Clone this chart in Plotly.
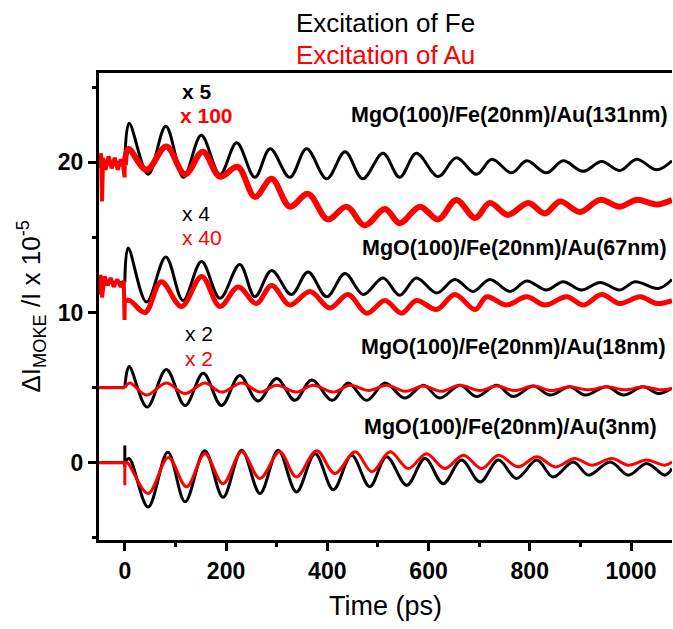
import plotly.graph_objects as go

# ---- time-resolved MOKE traces (time in ps, signal in units of 1e-5) ----
# Fe excitation (black) and Au excitation (red), one pair per Au thickness.
# Values are the turning points of each oscillating trace after t = 0.

fe_131_t = [0, 8.5, 46, 81, 116, 151, 188, 221, 257, 287, 326, 359, 399, 435, 470, 510,
            543, 576, 619, 655, 695, 725, 764, 794, 833, 866, 905, 942, 978, 1011, 1051, 1081]
fe_131_v = [20, 22.6, 19.2, 22.4, 19.0, 21.8, 19.2, 21.3, 19.0, 20.9, 19.0, 20.9, 18.9, 20.7, 18.9, 20.6,
            19.0, 20.6, 19.05, 20.3, 19.2, 20.2, 19.3, 20.1, 19.3, 20.1, 19.4, 20.05, 19.45, 20.2, 19.5, 20.1]

au_131_t = [0, 7, 43, 82, 119, 154, 188, 223, 257, 290, 326, 362, 401, 438, 474, 514,
            543, 583, 619, 655, 692, 721, 757, 797, 830, 860, 899, 939, 978, 1011, 1051, 1081]
au_131_v = [19.8, 20.9, 19.5, 21.05, 19.2, 20.7, 19.05, 19.7, 17.7, 18.9, 17.05, 17.9, 16.2, 17.05, 15.8, 16.9,
            15.95, 17.05, 16.2, 17.5, 16.3, 17.3, 16.5, 17.3, 16.6, 17.4, 16.7, 17.5, 17.05, 17.5, 17.2, 17.5]
au_131_pre_t = [-51, -47, -45, -43, -38, -32, -26, -20, -14, -8, -3, -0.5, 0]
au_131_pre_v = [19.6, 20.6, 17.4, 20.3, 19.5, 20.4, 19.6, 20.3, 19.5, 20.2, 19.7, 19.0, 19.8]

fe_67_t = [0, 6.6, 43, 81, 115, 151.5, 188, 227, 257, 290, 329, 362, 399, 435, 471, 510,
           543, 576, 616, 652, 688, 721, 761, 794, 833, 866, 902, 939, 978, 1008, 1054, 1081]
fe_67_v = [12, 14.3, 10.7, 13.7, 10.8, 13.4, 10.95, 13.2, 11.05, 12.8, 11.2, 12.7, 11.05, 12.6, 11.2, 12.3,
           11.15, 12.3, 11.3, 12.2, 11.4, 12.2, 11.4, 12.1, 11.5, 12.05, 11.5, 12.0, 11.5, 12.05, 11.6, 12.2]

au_67_t = [0, 10, 40, 72, 112, 152, 188, 224, 260, 290, 326, 366, 405, 441, 478, 514,
           547, 576, 616, 652, 692, 715, 754, 794, 830, 873, 906, 942, 978, 1018, 1051, 1081]
au_67_v = [10.8, 10.8, 10.0, 12.05, 10.4, 12.4, 10.4, 11.7, 10.6, 11.8, 10.5, 11.4, 10.3, 11.2, 9.95, 10.8,
           9.95, 10.8, 10.2, 11.2, 10.2, 11.05, 10.5, 11.05, 10.5, 11.05, 10.5, 11.2, 10.6, 11.05, 10.6, 10.8]
au_67_pre_t = [-51, -48, -45, -40, -34, -28, -22, -15, -8, -2, -0.5, 0]
au_67_pre_v = [11.2, 12.5, 11.0, 12.4, 11.8, 12.3, 11.7, 12.2, 11.7, 12.1, 9.5, 10.8]

fe_18_t = [0, 8.5, 44, 82, 119, 155, 191, 227, 263, 300, 336, 369, 410, 441, 478, 514,
           553, 590, 622, 662, 695, 735, 767, 807, 840, 879, 909, 952, 985, 1024, 1054, 1081]
fe_18_v = [5.0, 6.4, 3.7, 6.2, 3.8, 5.95, 3.8, 5.8, 4.1, 5.6, 4.15, 5.5, 4.15, 5.3, 4.15, 5.3,
           4.3, 5.15, 4.3, 5.15, 4.4, 5.15, 4.4, 5.1, 4.5, 5.05, 4.5, 5.05, 4.5, 5.05, 4.6, 4.95]

au_18_t = [0, 10, 43, 82, 119, 158, 191, 231, 267, 300, 339, 372, 412, 445, 482, 517,
           555, 590, 625, 662, 700, 735, 770, 807, 843, 879, 915, 952, 988, 1024, 1060, 1081]
au_18_v = [5.0, 5.3, 4.5, 5.3, 4.6, 5.3, 4.7, 5.3, 4.7, 5.15, 4.7, 5.15, 4.7, 5.15, 4.8, 5.15,
           4.75, 5.1, 4.75, 5.15, 4.8, 5.1, 4.8, 5.1, 4.8, 5.05, 4.85, 5.05, 4.85, 5.05, 4.85, 4.95]

fe_3_t = [0, 8.5, 46, 85, 119, 158, 194, 231, 267, 303, 339, 376, 412, 448, 484, 517,
          557, 593, 629, 665, 702, 738, 774, 814, 846, 886, 916, 959, 995, 1031, 1067, 1081]
fe_3_v = [0.0, 0.28, -2.95, 0.7, -2.6, 0.8, -2.3, 0.83, -2.05, 0.83, -1.95, 0.6, -1.8, 0.5, -1.6, 0.4,
          -1.5, 0.28, -1.4, 0.17, -1.28, 0.17, -1.05, 0.17, -0.95, 0.05, -0.83, 0.05, -0.83, -0.05, -0.83, -0.4]

au_3_t = [0, 5, 46, 86, 122, 158, 194, 231, 267, 306, 339, 379, 415, 455, 488, 524,
          560, 596, 632, 669, 705, 738, 777, 814, 850, 889, 922, 962, 995, 1031, 1067, 1081]
au_3_v = [0, 0.0, -2.05, 0.35, -1.6, 0.6, -1.4, 0.72, -1.05, 0.72, -0.95, 0.8, -0.72, 0.72, -0.6, 0.72,
          -0.39, 0.6, -0.39, 0.5, -0.39, 0.5, -0.28, 0.4, -0.28, 0.28, -0.17, 0.28, -0.17, 0.17, -0.17, 0.05]

# flat baselines before the pump pulse and the spikes at t = 0
pre_t = [-51, 0]
fe_131_pre_v = [20, 20]
fe_67_pre_v = [12, 12]
fe_18_pre_v = [5, 5]
au_18_pre_v = [5, 5]
fe_3_pre_v = [0, 0]
au_3_pre_v = [0, 0]
spike_t = [0, 0]
fe_3_spike_v = [-0.3, 1.15]
au_3_spike_v = [0.1, -1.5]

x_ticks = [0, 200, 400, 600, 800, 1000]
y_ticks = [0, 10, 20]

BLACK = "#000000"
RED = "#ff0000"
FONT = "Liberation Sans, Arial, sans-serif"

fig = go.Figure()


def add_line(t, v, color, width, shape="linear"):
    fig.add_trace(go.Scatter(x=t, y=v, mode="lines",
                             line=dict(color=color, width=width, shape=shape, smoothing=1.0),
                             hoverinfo="skip", showlegend=False))


# black (Fe excitation) traces underneath
for pre_v, t, v in [(fe_131_pre_v, fe_131_t, fe_131_v),
                    (fe_67_pre_v, fe_67_t, fe_67_v),
                    (fe_18_pre_v, fe_18_t, fe_18_v),
                    (fe_3_pre_v, fe_3_t, fe_3_v)]:
    add_line(pre_t, pre_v, BLACK, 3)
    add_line(t, v, BLACK, 3, "spline")
add_line(spike_t, fe_3_spike_v, BLACK, 3)

# red (Au excitation) traces on top; the thick ones carry the noise band
add_line(au_131_pre_t, au_131_pre_v, RED, 4)
add_line(au_131_t, au_131_v, RED, 6, "spline")
add_line(au_67_pre_t, au_67_pre_v, RED, 4)
add_line(au_67_t, au_67_v, RED, 5, "spline")
add_line(pre_t, au_18_pre_v, RED, 3)
add_line(au_18_t, au_18_v, RED, 3, "spline")
add_line(pre_t, au_3_pre_v, RED, 3)
add_line(au_3_t, au_3_v, RED, 3, "spline")
add_line(spike_t, au_3_spike_v, RED, 3)


def label(text, x, y, color=BLACK, size=21, bold=False, anchor="left"):
    if bold:
        text = "<b>" + text + "</b>"
    fig.add_annotation(x=x, y=y, xref="x", yref="y", text=text, showarrow=False,
                       xanchor=anchor, yanchor="middle",
                       font=dict(family=FONT, size=size, color=color))


label("x 5", 109, 24.7, bold=True)
label("x 100", 105, 23.15, RED, bold=True)
label("MgO(100)/Fe(20nm)/Au(131nm)", 1078, 23.15, size=21.5, bold=True, anchor="right")
label("x 4", 109, 16.6)
label("x 40", 109, 15.0, RED)
label("MgO(100)/Fe(20nm)/Au(67nm)", 1076, 14.3, size=21.5, bold=True, anchor="right")
label("x 2", 114, 8.6)
label("x 2", 114, 6.95, RED)
label("MgO(100)/Fe(20nm)/Au(18nm)", 1074, 7.7, size=21.5, bold=True, anchor="right")
label("MgO(100)/Fe(20nm)/Au(3nm)", 1056, 2.35, size=21.5, bold=True, anchor="right")

# legend-style header above the frame
fig.add_annotation(x=0.5, y=1, xref="paper", yref="paper", yshift=50,
                   text="Excitation of Fe", showarrow=False, xanchor="center", yanchor="middle",
                   font=dict(family=FONT, size=26, color=BLACK))
fig.add_annotation(x=0.5, y=1, xref="paper", yref="paper", yshift=18,
                   text="Excitation of Au", showarrow=False, xanchor="center", yanchor="middle",
                   font=dict(family=FONT, size=26, color=RED))

# axis titles
fig.add_annotation(x=0, y=0.5, xref="paper", yref="paper", xshift=-68,
                   text="ΔI<sub>MOKE</sub> /I x 10<sup>-5</sup>", textangle=-90, showarrow=False,
                   xanchor="center", yanchor="middle", font=dict(family=FONT, size=26, color=BLACK))
fig.add_annotation(x=0.5, y=0, xref="paper", yref="paper", yshift=-66,
                   text="Time (ps)", showarrow=False, xanchor="center", yanchor="middle",
                   font=dict(family=FONT, size=27, color=BLACK))

axis_common = dict(showgrid=False, zeroline=False, showline=True, linecolor=BLACK, linewidth=3,
                   ticks="outside", ticklen=8, tickwidth=2.5, tickcolor=BLACK,
                   tickfont=dict(family=FONT, size=23, color=BLACK))

fig.update_xaxes(range=[-51, 1081], tickvals=x_ticks, ticktext=[f"<b>{v}</b>" for v in x_ticks],
                 mirror=True, minor=dict(dtick=100, tick0=0, ticklen=4, tickwidth=2.5,
                                         tickcolor=BLACK, ticks="outside"),
                 **axis_common)
fig.update_yaxes(range=[-5.15, 25.95], tickvals=y_ticks, ticktext=[f"<b>{v}</b>" for v in y_ticks],
                 mirror=False, minor=dict(dtick=5, tick0=0, ticklen=4, tickwidth=2.5,
                                          tickcolor=BLACK, ticks="outside"),
                 **axis_common)

fig.update_layout(width=673, height=629, margin=dict(l=99, r=1, t=73, b=89),
                  paper_bgcolor="white", plot_bgcolor="white", showlegend=False)

fig.write_html("out.html")
